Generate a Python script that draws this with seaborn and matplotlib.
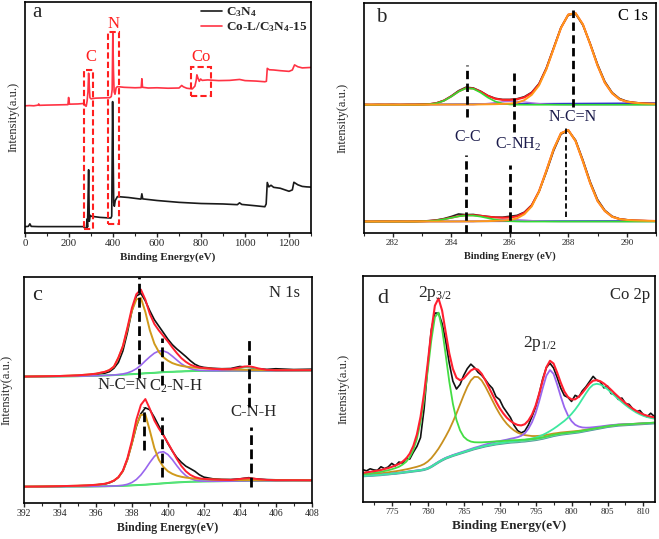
import numpy as np
import matplotlib
matplotlib.use('Agg')
import matplotlib.pyplot as plt
from matplotlib.patches import Rectangle
import seaborn as sns

sns.set_theme(style='ticks')
plt.rcParams['font.family'] = ['Liberation Serif', 'DejaVu Serif']
plt.rcParams['mathtext.fontset'] = 'custom'
plt.rcParams['mathtext.rm'] = 'Liberation Serif'
plt.rcParams['mathtext.it'] = 'Liberation Serif:italic'
plt.rcParams['mathtext.bf'] = 'Liberation Serif:bold'
plt.rcParams['mathtext.default'] = 'regular'

# ---------------- (a) survey spectra ----------------
a_x_red = [0, 20, 40, 60, 62, 64, 100, 150, 195, 198, 202, 240, 268, 274, 278, 282, 286, 289, 292, 295,
           300, 320, 350, 385, 392, 396, 399, 402, 405, 409, 414, 420, 450, 500, 528, 531, 534, 560, 600,
           650, 700, 712, 720, 735, 760, 772, 778, 781, 786, 792, 798, 805, 830, 880, 930, 975, 1000,
           1050, 1090, 1097, 1101, 1110, 1130, 1160, 1200, 1215, 1225, 1240, 1260, 1280, 1300]
a_y_red = [55.0, 55.1, 55.0, 55.3, 55.8, 55.2, 55.3, 55.4, 55.5, 58.6, 55.7, 55.8, 56.0, 55.0, 54.8, 57.0,
           61.0, 69.1, 63.5, 58.5, 58.0, 58.3, 58.4, 58.5, 59.0, 62.0, 86.3, 70.0, 61.0, 60.0, 62.8, 63.3,
           63.0, 62.8, 62.9, 66.7, 63.0, 62.7, 62.8, 62.6, 62.7, 63.8, 63.2, 62.6, 62.3, 63.5, 66.0, 68.4,
           67.0, 65.6, 66.6, 66.0, 66.2, 65.9, 66.0, 66.4, 65.9, 65.7, 65.4, 65.6, 71.2, 70.6, 70.5, 70.2,
           69.9, 70.5, 72.7, 71.9, 71.4, 71.5, 71.6]
a_x_blk = [0, 15, 22, 28, 60, 120, 200, 265, 272, 279, 282, 284, 289, 292, 296, 300, 340, 390, 394, 398,
           401, 403, 406, 410, 420, 470, 527, 531, 535, 600, 700, 800, 900, 965, 975, 985, 1050, 1090,
           1096, 1101, 1108, 1118, 1130, 1160, 1200, 1215, 1222, 1240, 1260, 1280, 1300]
a_y_blk = [2.7, 2.8, 3.9, 2.8, 2.7, 2.7, 2.7, 2.7, 2.0, 2.2, 6.0, 2.5, 27.3, 5.0, 7.6, 7.2, 6.7, 6.4, 7.2,
           56.8, 30.0, 13.0, 11.5, 14.0, 15.7, 15.3, 14.6, 16.9, 14.7, 14.0, 13.2, 12.7, 12.5, 12.2, 13.0,
           12.3, 11.7, 11.3, 12.5, 21.8, 19.9, 20.6, 19.7, 19.3, 18.0, 18.6, 21.9, 20.8, 20.1, 19.9, 19.8]
a_box_x0 = [268, 376, 753]
a_box_x1 = [309, 429, 845]
a_box_y0 = [1.7, 3.9, 59.4]
a_box_y1 = [70.6, 86.9, 71.6]
a_box_lbl = ['C', 'N', 'Co']
a_lbl_x = [298, 400, 800]
a_lbl_y = [76.3, 90.6, 76.0]

# ---------------- (b) C 1s ----------------
b_x = [281.0, 281.25, 281.5, 281.75, 282.0, 282.25, 282.5, 282.75, 283.0, 283.25, 283.5, 283.75, 284.0,
       284.25, 284.5, 284.75, 285.0, 285.25, 285.5, 285.75, 286.0, 286.25, 286.5, 286.75, 287.0, 287.25,
       287.5, 287.75, 288.0, 288.25, 288.5, 288.75, 289.0, 289.25, 289.5, 289.75, 290.0, 290.25, 290.5,
       290.75, 291.0]
b_top_black = [0.1, 0.0, 0.1, 0.05, 0.1, 0.0, 0.1, 0.1, 0.2, 0.3, 0.8, 1.9, 3.8, 6.1, 7.6, 7.3, 5.9, 4.0,
               2.8, 2.3, 2.3, 2.6, 3.5, 5.4, 9.2, 16.0, 24.8, 33.6, 39.0, 39.5, 34.6, 26.6, 17.6, 10.1,
               5.3, 2.7, 1.5, 1.0, 0.7, 0.5, 0.4]
b_top_red = [0.05, 0.05, 0.05, 0.05, 0.05, 0.05, 0.05, 0.06, 0.1, 0.25, 0.72, 1.8, 3.63, 5.8, 7.25, 7.08,
             5.73, 3.89, 2.61, 2.14, 2.12, 2.38, 3.2, 5.13, 8.89, 15.64, 24.5, 33.43, 39.2, 39.8, 34.9,
             26.3, 17.1, 9.6, 5.0, 2.4, 1.3, 0.9, 0.6, 0.45, 0.35]
b_top_orange = [0.05, 0.05, 0.05, 0.05, 0.05, 0.05, 0.05, 0.05, 0.06, 0.06, 0.07, 0.08, 0.08, 0.09, 0.1,
                0.1, 0.15, 0.2, 0.25, 0.35, 0.5, 0.9, 2.0, 4.3, 8.4, 15.4, 24.4, 33.4, 39.2, 39.8, 34.9,
                26.3, 17.1, 9.6, 5.0, 2.4, 1.3, 0.9, 0.6, 0.45, 0.35]
b_top_green = [0, 0, 0, 0, 0, 0, 0, 0.01, 0.04, 0.19, 0.65, 1.72, 3.55, 5.71, 7.15, 6.98, 5.30, 3.14,
               1.45, 0.52, 0.14, 0.03, 0, 0, 0, 0, 0, 0, 0, 0, 0, 0, 0, 0, 0, 0, 0, 0, 0, 0, 0]
b_top_purple = [0, 0, 0, 0, 0, 0, 0, 0, 0, 0, 0, 0, 0, 0, 0, 0, 0.28, 0.55, 0.91, 1.27, 1.48, 1.45, 1.2,
                0.83, 0.49, 0.24, 0.1, 0.03, 0, 0, 0, 0, 0, 0, 0, 0, 0, 0, 0, 0, 0]
b_bot_black = [0.1, 0.0, 0.1, 0.1, 0.05, 0.1, 0.0, 0.1, 0.2, 0.4, 0.7, 1.3, 2.2, 3.3, 3.0, 3.1, 2.6, 2.2,
               1.9, 1.9, 2.3, 2.7, 4.1, 7.2, 13.0, 21.5, 30.8, 38.0, 39.6, 35.4, 26.8, 17.3, 9.6, 4.9,
               2.3, 1.2, 0.8, 0.5, 0.4, 0.3, 0.3]
b_bot_red = [0.05, 0.05, 0.05, 0.05, 0.05, 0.05, 0.05, 0.05, 0.13, 0.27, 0.55, 1.05, 1.7, 2.35, 2.76,
             2.77, 2.53, 2.11, 1.82, 1.66, 1.78, 2.29, 3.84, 7.0, 13.2, 22.1, 31.5, 38.4, 39.8, 35.0,
             26.2, 16.7, 9.0, 4.6, 2.1, 1.1, 0.7, 0.5, 0.4, 0.3, 0.25]
b_bot_orange = [0.05, 0.05, 0.05, 0.05, 0.05, 0.05, 0.05, 0.05, 0.05, 0.05, 0.05, 0.05, 0.05, 0.06, 0.1,
                0.1, 0.15, 0.2, 0.3, 0.4, 0.7, 1.4, 3.2, 6.6, 13.0, 22.0, 31.5, 38.4, 39.8, 35.0, 26.2,
                16.7, 9.0, 4.6, 2.1, 1.1, 0.7, 0.5, 0.4, 0.3, 0.25]
b_bot_green = [0, 0, 0, 0, 0, 0, 0, 0, 0.08, 0.22, 0.5, 1.0, 1.64, 2.28, 2.66, 2.62, 2.16, 1.5, 0.88,
               0.43, 0.18, 0.06, 0, 0, 0, 0, 0, 0, 0, 0, 0, 0, 0, 0, 0, 0, 0, 0, 0, 0, 0]
b_bot_purple = [0, 0, 0, 0, 0, 0, 0, 0, 0, 0, 0, 0, 0, 0, 0, 0, 0.22, 0.41, 0.64, 0.83, 0.9, 0.83, 0.64,
                0.41, 0.22, 0.1, 0.04, 0, 0, 0, 0, 0, 0, 0, 0, 0, 0, 0, 0, 0, 0]
b_base_x = [281, 291]
b_base_top = [55.7, 56.4]
b_base_bot = [4.9, 5.2]
b_dash_x = [284.55, 286.15, 288.15, 284.52, 286.0, 287.93]
b_dash_lo = [50.4, 44.0, 54.8, 0.0, 0.0, 7.1]
b_dash_hi = [73.0, 69.6, 97.0, 33.9, 29.6, 45.5]

# ---------------- (c) N 1s ----------------
c_x = [392, 393, 394, 395, 395.5, 396, 396.5, 396.75, 397, 397.25, 397.5, 397.75, 398, 398.25, 398.5,
       398.75, 399, 399.25, 399.5, 399.75, 400, 400.25, 400.5, 400.75, 401, 401.25, 401.5, 401.75, 402,
       402.5, 403, 403.5, 404, 404.25, 404.5, 404.75, 405, 405.5, 406, 407, 408]
c_bg_top = [55.9, 55.95, 56.0, 56.1, 56.2, 56.3, 56.45, 56.5, 56.6, 56.7, 56.8, 56.9, 57.0, 57.1, 57.25,
            57.4, 57.5, 57.6, 57.75, 57.9, 58.0, 58.05, 58.15, 58.2, 58.3, 58.35, 58.4, 58.45, 58.5, 58.5,
            58.5, 58.5, 58.5, 58.5, 58.5, 58.5, 58.5, 58.5, 58.5, 58.55, 58.6]
c_top_black = [0.0, 0.1, 0.1, 0.3, 0.4, 0.6, 1.0, 1.6, 3.0, 5.5, 10.5, 18.5, 28.0, 34.5, 35.5, 32.0,
               27.5, 23.5, 20.5, 17.5, 14.5, 12.0, 10.0, 8.3, 6.5, 4.6, 3.0, 2.0, 1.5, 1.1, 0.9, 1.0,
               1.9, 1.7, 1.5, 1.3, 0.9, 0.6, 0.9, 0.5, 0.6]
c_top_red = [0.05, 0.1, 0.2, 0.4, 0.6, 0.9, 1.6, 2.32, 3.75, 7.63, 12.7, 20.66, 29.3, 35.3, 37.2, 32.6,
             26.1, 21.6, 18.6, 16.0, 13.5, 10.75, 8.16, 5.89, 4.16, 2.83, 2.05, 1.53, 1.2, 0.87, 0.69,
             0.73, 1.44, 1.88, 1.99, 1.65, 1.1, 0.4, 0.26, 0.2, 0.16]
c_top_orange = [0.05, 0.1, 0.2, 0.4, 0.6, 0.9, 1.6, 2.3, 3.7, 7.5, 12.4, 20.0, 28.0, 33.0, 33.5, 27.1,
                18.9, 12.9, 9.1, 6.6, 5.0, 3.85, 3.06, 2.49, 2.06, 1.73, 1.48, 1.27, 1.1, 0.86, 0.69,
                0.56, 0.47, 0.43, 0.40, 0.37, 0.34, 0.30, 0.26, 0.2, 0.16]
c_top_purple = [0, 0, 0, 0, 0, 0, 0, 0.02, 0.05, 0.13, 0.3, 0.66, 1.3, 2.3, 3.7, 5.5, 7.2, 8.7, 9.5, 9.4,
                8.5, 6.9, 5.1, 3.4, 2.1, 1.1, 0.57, 0.26, 0.1, 0.01, 0, 0, 0, 0, 0, 0, 0, 0, 0, 0, 0]
c_top_cnh = [0, 0, 0, 0, 0, 0, 0, 0, 0, 0, 0, 0, 0, 0, 0, 0, 0, 0, 0, 0, 0, 0, 0, 0, 0, 0, 0, 0, 0, 0,
             0, 0.17, 0.97, 1.45, 1.59, 1.28, 0.76, 0.1, 0, 0, 0]
c_bg_bot = [7.2, 7.2, 7.25, 7.3, 7.3, 7.35, 7.4, 7.45, 7.5, 7.55, 7.6, 7.7, 7.8, 7.9, 8.0, 8.1, 8.25,
            8.4, 8.55, 8.7, 8.85, 9.0, 9.1, 9.2, 9.3, 9.4, 9.45, 9.5, 9.55, 9.6, 9.65, 9.7, 9.75, 9.75,
            9.8, 9.8, 9.8, 9.85, 9.85, 9.9, 9.9]
c_bot_black = [0.0, 0.1, 0.1, 0.3, 0.4, 0.6, 1.0, 1.5, 2.3, 3.8, 6.5, 11.5, 18.5, 26.0, 31.5, 34.0,
               33.0, 29.5, 25.5, 21.5, 17.5, 14.0, 11.0, 8.8, 7.0, 5.8, 4.6, 3.0, 1.9, 1.1, 0.8, 0.7,
               0.9, 1.2, 1.4, 1.0, 0.8, 0.5, 0.4, 0.3, 0.2]
c_bot_red = [0.05, 0.1, 0.2, 0.35, 0.5, 0.7, 1.1, 1.61, 2.43, 3.88, 6.73, 12.07, 19.75, 29.0, 35.4,
             37.9, 33.4, 28.1, 24.4, 21.3, 17.8, 14.1, 10.4, 7.2, 4.75, 3.04, 2.02, 1.43, 1.1, 0.81,
             0.63, 0.5, 0.87, 1.09, 1.16, 1.03, 0.75, 0.36, 0.23, 0.18, 0.14]
c_bot_orange = [0.05, 0.1, 0.2, 0.35, 0.5, 0.7, 1.1, 1.6, 2.4, 3.8, 6.5, 11.5, 18.5, 26.5, 31.0, 31.0,
                23.7, 15.9, 10.6, 7.3, 5.2, 3.9, 3.0, 2.4, 1.95, 1.6, 1.35, 1.15, 1.0, 0.8, 0.63, 0.5,
                0.42, 0.39, 0.36, 0.33, 0.3, 0.26, 0.23, 0.18, 0.14]
c_bot_purple = [0, 0, 0, 0, 0, 0, 0, 0.01, 0.03, 0.08, 0.23, 0.57, 1.25, 2.5, 4.4, 6.9, 9.7, 12.2, 13.8,
                14.0, 12.6, 10.2, 7.4, 4.8, 2.8, 1.44, 0.67, 0.28, 0.1, 0.01, 0, 0, 0, 0, 0, 0, 0, 0,
                0, 0, 0]
c_bot_cnh = [0, 0, 0, 0, 0, 0, 0, 0, 0, 0, 0, 0, 0, 0, 0, 0, 0, 0, 0, 0, 0, 0, 0, 0, 0, 0, 0, 0, 0, 0,
             0, 0, 0.45, 0.7, 0.8, 0.7, 0.45, 0.1, 0, 0, 0]
c_dash_x = [398.4, 399.65, 404.5, 398.65, 399.7, 404.65]
c_dash_lo = [55.3, 52.2, 42.6, 23.5, 11.6, 7.2]
c_dash_hi = [100.0, 73.0, 73.5, 42.6, 38.2, 33.8]

# ---------------- (d) Co 2p ----------------
d_x = [771.0, 771.5, 772.0, 772.5, 773.0, 773.5, 774.0, 774.5, 775.0, 775.5, 776.0, 776.5, 777.0, 777.5,
       778.0, 778.5, 779.0, 779.5, 780.0, 780.5, 781.0, 781.5, 782.0, 782.5, 783.0, 783.5, 784.0, 784.5,
       785.0, 785.5, 786.0, 786.5, 787.0, 787.5, 788.0, 788.5, 789.0, 789.5, 790.0, 790.5, 791.0, 791.5,
       792.0, 792.5, 793.0, 793.5, 794.0, 794.5, 795.0, 795.5, 796.0, 796.5, 797.0, 797.5, 798.0, 798.5,
       799.0, 799.5, 800.0, 800.5, 801.0, 801.5, 802.0, 802.5, 803.0, 803.5, 804.0, 804.5, 805.0, 805.5,
       806.0, 806.5, 807.0, 807.5, 808.0, 808.5, 809.0, 809.5, 810.0, 810.5, 811.0, 811.5]
d_bg = [11.5, 11.6, 11.7, 11.8, 11.9, 12.0, 12.2, 12.3, 12.5, 12.6, 12.8, 13.0, 13.2, 13.4, 13.6, 13.8,
        14.0, 14.3, 14.8, 15.6, 16.6, 17.6, 18.5, 19.3, 19.9, 20.5, 21.0, 21.5, 22.0, 22.5, 23.0, 23.5,
        23.9, 24.3, 24.7, 25.0, 25.3, 25.6, 25.8, 26.0, 26.2, 26.4, 26.5, 26.6, 26.8, 26.9, 27.1, 27.3,
        27.5, 27.8, 28.1, 28.5, 28.9, 29.3, 29.6, 29.9, 30.1, 30.3, 30.5, 30.7, 30.9, 31.2, 31.5, 31.8,
        32.1, 32.4, 32.7, 33.0, 33.3, 33.5, 33.7, 33.9, 34.0, 34.1, 34.2, 34.3, 34.4, 34.5, 34.6, 34.7,
        34.8, 34.9]
d_black = [2.8, 2.2, 3.0, 2.4, 2.1, 3.6, 2.6, 3.2, 4.6, 3.4, 4.9, 4.2, 6.1, 5.6, 8.4, 10.8, 14.5, 27.0,
           45.0, 60.5, 67.0, 66.0, 60.5, 52.0, 41.5, 33.0, 29.0, 30.5, 34.0, 36.5, 38.0, 36.0, 33.5, 31.8,
           29.5, 27.0, 25.0, 21.0, 19.5, 16.0, 13.5, 11.0, 7.5, 5.0, 3.8, 4.5, 7.0, 10.5, 14.5, 20.0,
           26.5, 31.0, 32.5, 30.0, 25.5, 20.5, 17.0, 16.0, 14.0, 16.5, 15.5, 18.0, 19.5, 21.5, 23.5, 21.5,
           20.5, 17.5, 18.0, 14.5, 14.0, 11.5, 12.0, 9.5, 9.0, 7.0, 5.5, 6.0, 4.0, 3.0, 4.5, 3.0]
d_red = [1.41, 1.53, 1.66, 1.81, 1.98, 2.18, 2.44, 2.71, 3.06, 3.57, 4.03, 4.88, 6.05, 8.01, 11.22,
         16.14, 23.65, 33.86, 46.58, 59.99, 70.3, 72.51, 66.24, 55.86, 45.89, 38.42, 33.96, 32.39, 32.63,
         33.98, 35.19, 35.55, 34.65, 32.45, 29.26, 25.79, 22.26, 18.81, 15.75, 13.25, 11.11, 9.5, 8.3,
         7.5, 7.1, 7.52, 8.98, 11.39, 15.1, 20.18, 25.85, 31.12, 33.6, 31.98, 27.66, 22.89, 18.82, 16.16,
         14.9, 14.74, 15.68, 17.12, 18.85, 20.57, 21.59, 21.53, 20.74, 19.43, 17.83, 16.15, 14.37, 12.7,
         11.14, 9.66, 8.29, 7.05, 5.92, 4.97, 4.13, 3.5, 2.99, 2.57]
d_green = [0.8, 0.87, 0.94, 1.07, 1.2, 1.34, 1.54, 1.74, 2.0, 2.4, 2.8, 3.55, 4.6, 6.4, 9.4, 14.1, 21.3,
           31.1, 43.2, 55.9, 65.2, 66.2, 58.2, 45.8, 33.4, 23.0, 15.3, 10.2, 6.9, 5.0, 3.75, 2.95, 2.5,
           2.1, 1.8, 1.6, 1.4, 1.25, 1.1, 1.02, 0.95, 0.9, 0.85, 0.8, 0.75, 0.72, 0.68, 0.64, 0.6, 0.58,
           0.55, 0.52, 0.5, 0.48, 0.46, 0.44, 0.42, 0.41, 0.4, 0.39, 0.38, 0.37, 0.35, 0.34, 0.33, 0.32,
           0.3, 0.29, 0.29, 0.28, 0.27, 0.26, 0.26, 0.25, 0.25, 0.24, 0.24, 0.23, 0.23, 0.22, 0.22, 0.22]
d_orange = [0.5, 0.55, 0.6, 0.62, 0.65, 0.7, 0.75, 0.82, 0.9, 1.0, 1.05, 1.15, 1.25, 1.4, 1.6, 1.8, 2.1,
            2.5, 3.1, 3.8, 4.8, 6.0, 7.7, 9.7, 12.1, 15.0, 18.2, 21.7, 25.2, 28.4, 30.8, 31.9, 31.4, 29.5,
            26.5, 23.1, 19.6, 16.2, 13.2, 10.6, 8.4, 6.6, 5.2, 4.1, 3.3, 2.7, 2.3, 1.9, 1.7, 1.5, 1.3, 1.2,
            1.1, 1.0, 0.9, 0.85, 0.8, 0.75, 0.7, 0.65, 0.6, 0.55, 0.5, 0.48, 0.46, 0.44, 0.4, 0.39, 0.38,
            0.36, 0.33, 0.32, 0.3, 0.29, 0.27, 0.26, 0.25, 0.24, 0.22, 0.21, 0.21, 0.2]
d_purple = [0.06, 0.06, 0.07, 0.07, 0.08, 0.08, 0.09, 0.09, 0.1, 0.1, 0.11, 0.11, 0.12, 0.13, 0.14, 0.15,
            0.16, 0.17, 0.18, 0.19, 0.2, 0.21, 0.23, 0.25, 0.27, 0.3, 0.33, 0.36, 0.38, 0.42, 0.47, 0.52,
            0.56, 0.65, 0.74, 0.85, 1.0, 1.08, 1.15, 1.3, 1.4, 1.6, 1.8, 2.1, 2.5, 3.5, 5.3, 8.0, 11.8,
            16.8, 22.4, 27.4, 29.5, 27.4, 22.4, 16.8, 11.8, 8.0, 5.3, 3.5, 2.5, 1.8, 1.4, 1.15, 1.0, 0.87,
            0.74, 0.65, 0.56, 0.51, 0.47, 0.42, 0.38, 0.32, 0.27, 0.25, 0.23, 0.2, 0.18, 0.17, 0.16, 0.15]
d_cyan = [0.05, 0.05, 0.05, 0.05, 0.05, 0.06, 0.06, 0.06, 0.06, 0.07, 0.07, 0.07, 0.08, 0.08, 0.08, 0.09,
          0.09, 0.09, 0.1, 0.1, 0.1, 0.1, 0.11, 0.11, 0.12, 0.12, 0.13, 0.13, 0.15, 0.16, 0.17, 0.18,
          0.19, 0.2, 0.22, 0.24, 0.26, 0.28, 0.3, 0.33, 0.36, 0.4, 0.45, 0.5, 0.55, 0.6, 0.7, 0.85, 1.0,
          1.3, 1.6, 2.0, 2.5, 3.1, 3.9, 4.8, 5.8, 7.0, 8.5, 10.2, 12.2, 14.4, 16.6, 18.6, 19.8, 19.9,
          19.3, 18.1, 16.6, 15.0, 13.3, 11.7, 10.2, 8.8, 7.5, 6.3, 5.2, 4.3, 3.5, 2.9, 2.4, 2.0]

TOP_B, BOT_B = 55.7, 4.9
SERIF = 'Liberation Serif'


def trace(ax, x, y, color, lw=1.2, label=None, zorder=2):
    sns.lineplot(x=x, y=y, ax=ax, color=color, lw=lw, label=label, sort=False,
                 errorbar=None, legend=False, zorder=zorder)


def frame(ax, xlim, major, minor, xlabel, lsize, tsize, ypad):
    ax.set_xlim(*xlim)
    ax.set_ylim(0, 100)
    ax.set_xticks(np.arange(major[0], major[1] + 0.01, major[2]))
    ax.set_xticks(np.arange(minor[0], minor[1] + 0.01, minor[2]), minor=True)
    ax.set_yticks([])
    ax.tick_params(axis='x', which='major', direction='out', length=3, width=1, labelsize=tsize, pad=1.5)
    ax.tick_params(axis='x', which='minor', direction='out', length=2, width=0.8)
    for s in ax.spines.values():
        s.set_linewidth(1.2)
        s.set_color('black')
    ax.set_xlabel(xlabel, fontsize=lsize, fontweight='bold', labelpad=3)
    ax.set_ylabel('Intensity(a.u.)', fontsize=9, labelpad=ypad)


fig = plt.figure(figsize=(6.59, 5.39), dpi=100)
ax_a = fig.add_axes([0.038, 0.568, 0.434, 0.4286])
ax_b = fig.add_axes([0.5516, 0.568, 0.4439, 0.4267])
ax_c = fig.add_axes([0.0364, 0.0668, 0.4366, 0.4193])
ax_d = fig.add_axes([0.5508, 0.0686, 0.4431, 0.4193])

# (a)
trace(ax_a, a_x_blk, a_y_blk, '#1a1a1a', 1.2, label='C$_3$N$_4$')
trace(ax_a, a_x_red, a_y_red, '#ff3344', 1.2, label='Co-L/C$_3$N$_4$-15')
for x0, x1, y0, y1 in zip(a_box_x0, a_box_x1, a_box_y0, a_box_y1):
    ax_a.add_patch(Rectangle((x0, y0), x1 - x0, y1 - y0, fill=False, ec='#ff2020', lw=1.5,
                             ls=(0, (3, 1.5)), zorder=3))
for t, x, y in zip(a_box_lbl, a_lbl_x, a_lbl_y):
    ax_a.text(x, y, t, color='#ff2020', fontsize=12, ha='center', va='center')
frame(ax_a, (0, 1300), (0, 1200, 200), (0, 1300, 100), 'Binding Energy(eV)', 8, 7.8, 4)
ax_a.text(0.04, 0.955, 'a', transform=ax_a.transAxes, fontsize=15, ha='center', va='center')
ax_a.legend(loc='upper right', frameon=False, handlelength=1.6, handletextpad=0.3, labelspacing=0.1,
            borderaxespad=0.15, borderpad=0.1, prop={'family': SERIF, 'weight': 'bold', 'size': 9.5})

# (b)
trace(ax_b, b_base_x, b_base_top, '#3030d0', 1.2)
trace(ax_b, b_base_x, b_base_bot, '#3030d0', 1.2)
for off, blk, red, org, grn, pur in [(TOP_B, b_top_black, b_top_red, b_top_orange, b_top_green, b_top_purple),
                                     (BOT_B, b_bot_black, b_bot_red, b_bot_orange, b_bot_green, b_bot_purple)]:
    trace(ax_b, b_x, np.array(blk) + off, '#222222', 1.2)
    trace(ax_b, b_x, np.array(pur) + off, '#b070e0', 1.0)
    trace(ax_b, b_x, np.array(red) + off, '#ff2020', 1.5)
    trace(ax_b, b_x, np.array(grn) + off, '#33dd33', 1.2)
    trace(ax_b, b_x, np.array(org) + off, '#ff9a1a', 1.4)
for i, (x, lo, hi) in enumerate(zip(b_dash_x, b_dash_lo, b_dash_hi)):
    ax_b.vlines(x, lo, hi, colors='black', lw=1.3 if i == 5 else 2.0, linestyles=(0, (3, 1.6)), zorder=4)
navy = '#1c1c4c'
ax_b.text(284.57, 41.7, 'C-C', color=navy, fontsize=11.5, ha='center', va='center')
ax_b.text(286.27, 38.3, 'C-NH$_2$', color=navy, fontsize=11.5, ha='center', va='center')
ax_b.text(288.15, 50.4, 'N-C=N', color=navy, fontsize=11.5, ha='center', va='center')
ax_b.text(290.2, 94.2, 'C 1s', color='black', fontsize=12, ha='center', va='center')
ax_b.text(0.062, 0.935, 'b', transform=ax_b.transAxes, fontsize=15, ha='center', va='center')
frame(ax_b, (281, 291), (282, 290, 2), (281, 291, 1), 'Binding Energy (eV)', 7.5, 6.5, 11)

# (c)
for bg, blk, red, org, pur, cnh in [(c_bg_top, c_top_black, c_top_red, c_top_orange, c_top_purple, c_top_cnh),
                                    (c_bg_bot, c_bot_black, c_bot_red, c_bot_orange, c_bot_purple, c_bot_cnh)]:
    bg = np.array(bg)
    trace(ax_c, c_x, np.array(blk) + bg, '#111111', 1.2)
    trace(ax_c, c_x, bg, '#33ee33', 1.4)
    trace(ax_c, c_x, np.array(cnh) + bg, '#55dd88', 1.0)
    trace(ax_c, c_x, np.array(pur) + bg, '#9966ee', 1.2)
    trace(ax_c, c_x, np.array(org) + bg, '#d09a1c', 1.4)
    trace(ax_c, c_x, np.array(red) + bg, '#ff2030', 1.4)
for x, lo, hi in zip(c_dash_x, c_dash_lo, c_dash_hi):
    ax_c.vlines(x, lo, hi, colors='black', lw=2.0, linestyles=(0, (3.5, 1.6)), zorder=4)
ax_c.text(397.5, 52.2, 'N-C=N', fontsize=12, ha='center', va='center')
ax_c.text(400.48, 51.5, 'C$_2$-N-H', fontsize=12, ha='center', va='center')
ax_c.text(404.78, 40.1, 'C-N-H', fontsize=12, ha='center', va='center')
ax_c.text(406.5, 92.8, 'N 1s', fontsize=12, ha='center', va='center')
ax_c.text(392.7, 92.0, 'c', fontsize=16, ha='center', va='center')
frame(ax_c, (392, 408), (392, 408, 2), (392, 408, 1), 'Binding Energy(eV)', 8.5, 7, 8)

# (d)
bg = np.array(d_bg)
trace(ax_d, d_x, bg, '#4f8f9a', 1.8)
trace(ax_d, d_x, bg, '#66dd99', 0.8)
trace(ax_d, d_x, np.array(d_black) + bg, '#111111', 1.2)
trace(ax_d, d_x, np.array(d_orange) + bg, '#c8901e', 1.3)
trace(ax_d, d_x, np.array(d_purple) + bg, '#9966ee', 1.3)
trace(ax_d, d_x, np.array(d_cyan) + bg, '#3ee8a0', 1.3)
trace(ax_d, d_x, np.array(d_green) + bg, '#44dd44', 1.3)
trace(ax_d, d_x, np.array(d_red) + bg, '#ff2030', 1.5)
ax_d.text(781.0, 92.2, '2p$_{3/2}$', fontsize=12.5, ha='center', va='center')
ax_d.text(795.7, 70.0, '2p$_{1/2}$', fontsize=12.5, ha='center', va='center')
ax_d.text(808.1, 91.6, 'Co 2p', fontsize=12, ha='center', va='center')
ax_d.text(773.7, 90.2, 'd', fontsize=16, ha='center', va='center')
frame(ax_d, (771, 811.6), (775, 810, 5), (772.5, 810, 2.5), 'Binding Energy(eV)', 9.5, 6.5, 10)

fig.savefig('out.png', dpi=100)
